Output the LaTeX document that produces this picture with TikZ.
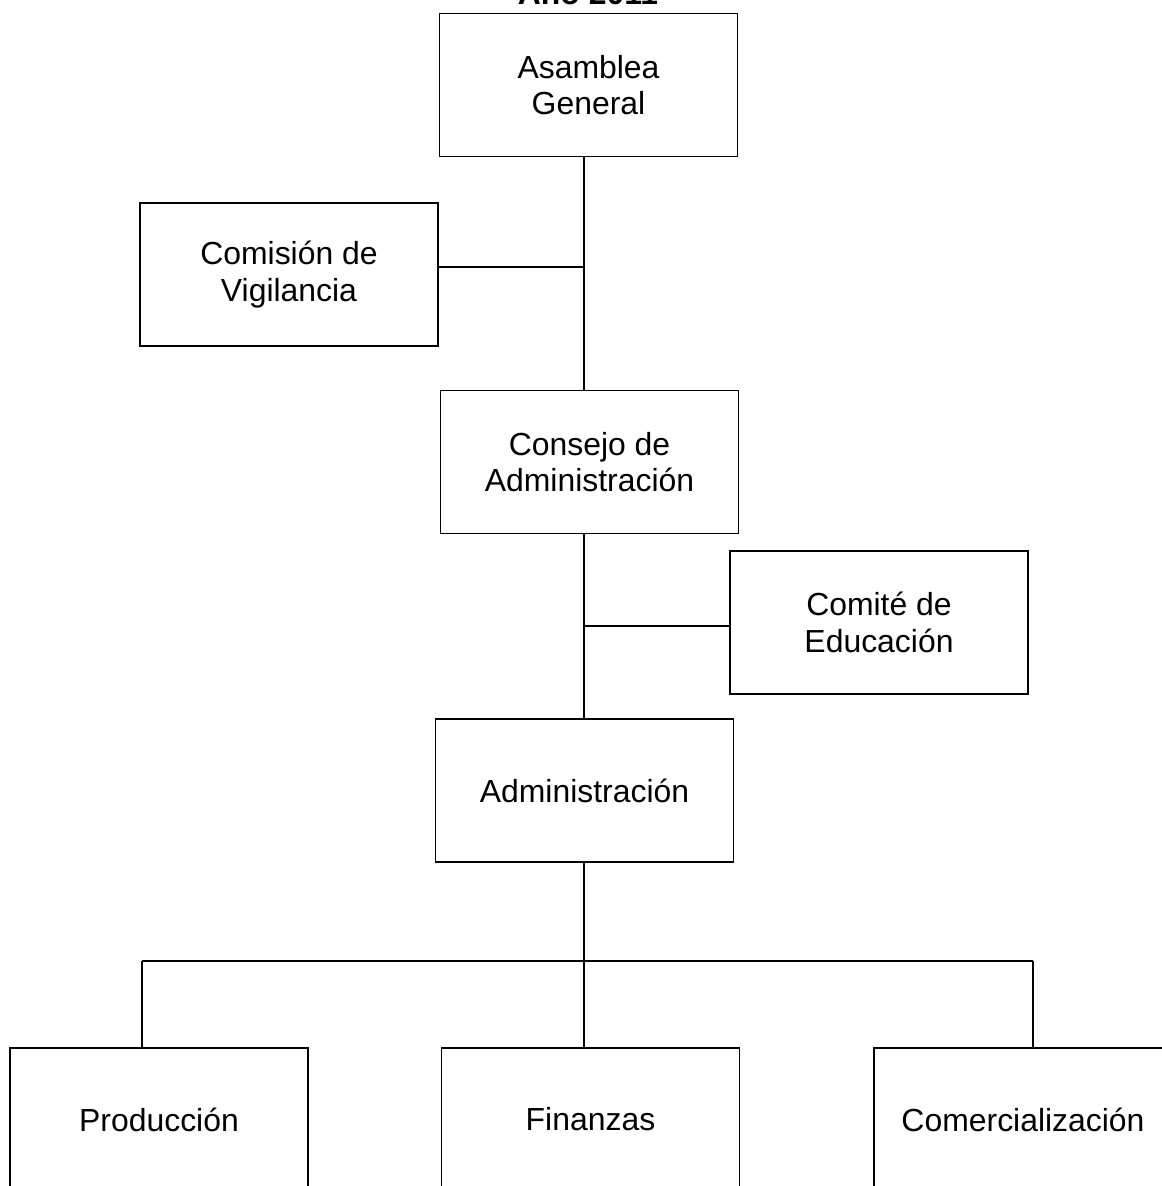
\documentclass[tikz,border=0pt]{standalone}
\usepackage{fontspec}
\setmainfont{Liberation Sans}
\begin{document}
\begin{tikzpicture}[x=0.025cm,y=-0.025cm,
  orgbox/.style={draw=black, line width=1.3pt, minimum width=7.45cm, minimum height=3.575cm,
    align=center, inner sep=0pt, font=\fontsize{22.7}{25.8}\selectfont},
  conn/.style={draw=black, line width=1pt}]
\useasboundingbox (0,0) rectangle (1162,1186);
\node[anchor=base, font=\bfseries\fontsize{22.7}{25.8}\selectfont] (title) at (588,4) {Año 2011};
\node[orgbox] (asm) at (588.5,85) {Asamblea\\General};
\node[orgbox] (vig) at (289,274.5) {Comisión de\\Vigilancia};
\node[orgbox] (cons) at (589.5,462) {Consejo de\\Administración};
\node[orgbox] (edu) at (879,622.5) {Comité de\\Educación};
\node[orgbox] (adm) at (584.5,790.5) {Administración};
\node[orgbox] (prod) at (159,1119.5) {Producción};
\node[orgbox] (fin) at (590.5,1119.5) {Finanzas};
\node[orgbox] (com) at (1023,1119.5) {Comercialización};
\coordinate (j1) at (584,267);
\coordinate (j2) at (584,626);
\coordinate (j3) at (584,961);
\coordinate (jl) at (142,961);
\coordinate (jr) at (1033,961);
\draw[conn] (asm.south -| j1) -- (cons.north -| j1);
\draw[conn] (vig.east |- j1) -- (j1);
\draw[conn] (cons.south -| j2) -- (adm.north -| j2);
\draw[conn] (j2) -- (edu.west |- j2);
\draw[conn] (adm.south -| j3) -- (fin.north -| j3);
\draw[conn] (jl) -- (jr);
\draw[conn] (jl) -- (prod.north -| jl);
\draw[conn] (jr) -- (com.north -| jr);
\end{tikzpicture}
\end{document}
